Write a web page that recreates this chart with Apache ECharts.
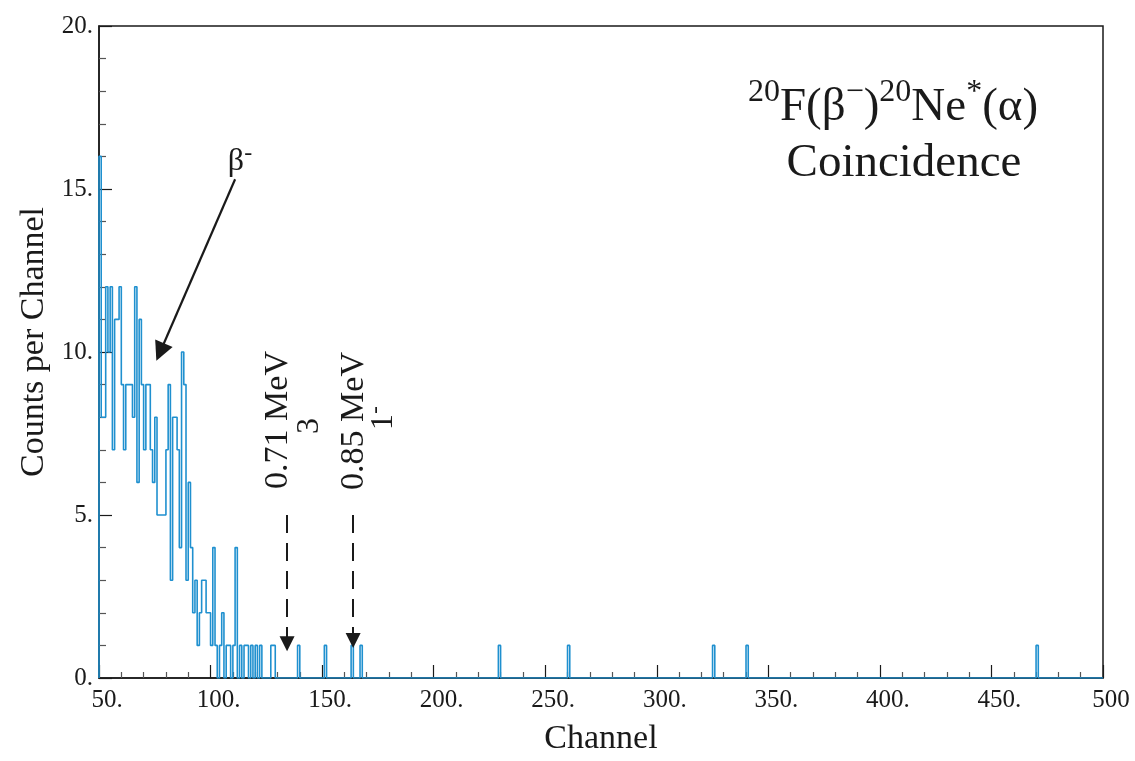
<!DOCTYPE html>
<html>
<head>
<meta charset="utf-8">
<script src="https://cdn.jsdelivr.net/npm/echarts@6/dist/echarts.min.js"></script>
<style>
html, body { margin: 0; padding: 0; background: #fff; }
#main { width: 1135px; height: 761px; }
</style>
</head>
<body>
<div id="main"></div>
<script>
// counts per channel, first entry is channel 50
var firstChannel = 50
var lastChannel = 500
var lowCounts = [16, 8, 8, 12, 10, 12, 7, 11, 11, 12, // 50-59
  9, 7, 9, 9, 9, 8, 12, 6, 11, 9,                       // 60-69
  7, 9, 9, 7, 6, 8, 5, 5, 5, 5,                         // 70-79
  7, 9, 3, 8, 8, 7, 4, 10, 9, 3,                        // 80-89
  6, 4, 2, 3, 1, 2, 3, 3, 2, 2,                         // 90-99
  1, 4, 1, 0, 1, 2, 0, 1, 1, 0,                         // 100-109
  1, 4, 0, 1, 0, 1, 1, 0, 1, 0,                         // 110-119
  1, 0, 1, 0, 0, 0, 0, 1, 1]                            // 120-128
// isolated single counts further out
var spikeChannels = [139, 151, 163, 167, 229, 260, 325, 340, 470]
var spikeCounts = [1, 1, 1, 1, 1, 1, 1, 1, 1]

// annotation arrows, in channel / counts
var betaArrow = [[111, 15.3], [77.4, 10.0]]
var levelArrows = [[[134.3, 5.0], [134.3, 1.05]], [[163.9, 5.0], [163.9, 1.15]]]

var counts = []
for (var c = firstChannel; c < lastChannel; c++) counts.push(0)
lowCounts.forEach((v, i) => { counts[i] = v })
spikeChannels.forEach((ch, i) => { counts[ch - firstChannel] = spikeCounts[i] })

var stepData = [[firstChannel, 0]]
counts.forEach((v, i) => stepData.push([firstChannel + i, v]))
stepData.push([lastChannel, counts[counts.length - 1]])

var serif = 'Liberation Serif'
var ink = '#1a1a1a'

var arrowLines = [[
  { coord: betaArrow[0], lineStyle: { type: 'solid', width: 2.2 } },
  { coord: betaArrow[1], symbolSize: 19 }
]]
levelArrows.forEach(a => {
  arrowLines.push([{ coord: a[0], lineStyle: { type: [18, 10], width: 2 } }, { coord: a[1], symbolSize: 15 }])
})

var chart = echarts.init(document.getElementById('main'))
chart.setOption({
  animation: false,
  backgroundColor: '#fff',
  grid: {
    left: 99, right: 32, top: 26, bottom: 83,
    show: true, borderColor: ink, borderWidth: 1.5
  },
  xAxis: {
    type: 'value', min: 50, max: 500, interval: 50,
    name: 'Channel', nameLocation: 'middle', nameGap: 44,
    nameTextStyle: { fontFamily: serif, fontSize: 34, color: ink },
    axisLine: { show: true, lineStyle: { color: ink, width: 1.5 } },
    axisTick: { inside: true, length: 13, lineStyle: { color: ink, width: 1.2 } },
    minorTick: { show: true, splitNumber: 5, length: 6, lineStyle: { color: '#555', width: 1.2 } },
    splitLine: { show: false },
    axisLabel: {
      fontFamily: serif, fontSize: 25, color: ink, margin: 10, padding: [0, 0, 0, 16],
      formatter: v => v === 500 ? '500' : v + '.'
    }
  },
  yAxis: {
    type: 'value', min: 0, max: 20, interval: 5,
    name: 'Counts per Channel', nameLocation: 'middle', nameGap: 46, nameRotate: 90,
    nameTextStyle: { fontFamily: serif, fontSize: 34, color: ink, padding: [0, 0, 0, 20] },
    axisLine: { show: true, lineStyle: { color: ink, width: 1.5 } },
    axisTick: { inside: true, length: 13, lineStyle: { color: ink, width: 1.2 } },
    minorTick: { show: true, splitNumber: 5, length: 7, lineStyle: { color: '#555', width: 1.2 } },
    splitLine: { show: false },
    axisLabel: {
      fontFamily: serif, fontSize: 25, color: ink, margin: 6,
      formatter: v => v + '.'
    }
  },
  series: [{
    type: 'line',
    step: 'end',
    symbol: 'none',
    data: stepData,
    lineStyle: { color: '#1f90cf', width: 1.6 },
    markLine: {
      silent: true,
      animation: false,
      symbol: ['none', 'triangle'],
      symbolSize: 15,
      label: { show: false },
      lineStyle: { color: ink },
      itemStyle: { color: ink },
      emphasis: { disabled: true },
      data: arrowLines
    }
  }],
  graphic: [
    {
      type: 'text', x: 893, y: 104,
      style: {
        text: '{s|20}{n|F(β}{s|−}{n|)}{s|20}{n|Ne}{s|*}{n|(α)}',
        align: 'center', verticalAlign: 'middle',
        rich: {
          n: { fontFamily: serif, fontSize: 47, fill: ink, lineHeight: 54, verticalAlign: 'bottom' },
          s: { fontFamily: serif, fontSize: 32, fill: ink, lineHeight: 54, verticalAlign: 'top' }
        }
      }
    },
    {
      type: 'text', x: 904, y: 164,
      style: { text: 'Coincidence', fontFamily: serif, fontSize: 47, fill: ink, align: 'center', verticalAlign: 'middle' }
    },
    {
      type: 'text', x: 240, y: 160,
      style: {
        text: '{n|β}{s|-}', align: 'center', verticalAlign: 'middle',
        rich: {
          n: { fontFamily: serif, fontSize: 32, fill: ink, lineHeight: 36, verticalAlign: 'bottom' },
          s: { fontFamily: serif, fontSize: 24, fill: ink, lineHeight: 36, verticalAlign: 'top' }
        }
      }
    },
    {
      type: 'text', x: 278, y: 420, rotation: Math.PI / 2,
      style: { text: '0.71 MeV', fontFamily: serif, fontSize: 34, fill: ink, align: 'center', verticalAlign: 'middle' }
    },
    {
      type: 'text', x: 310, y: 426, rotation: Math.PI / 2,
      style: { text: '3', fontFamily: serif, fontSize: 32, fill: ink, align: 'center', verticalAlign: 'middle' }
    },
    {
      type: 'text', x: 354, y: 421, rotation: Math.PI / 2,
      style: { text: '0.85 MeV', fontFamily: serif, fontSize: 34, fill: ink, align: 'center', verticalAlign: 'middle' }
    },
    {
      type: 'text', x: 382, y: 418, rotation: Math.PI / 2,
      style: {
        text: '{n|1}{s|-}', align: 'center', verticalAlign: 'middle',
        rich: {
          n: { fontFamily: serif, fontSize: 32, fill: ink, lineHeight: 36, verticalAlign: 'bottom' },
          s: { fontFamily: serif, fontSize: 24, fill: ink, lineHeight: 36, verticalAlign: 'top' }
        }
      }
    }
  ]
})
</script>
</body>
</html>
